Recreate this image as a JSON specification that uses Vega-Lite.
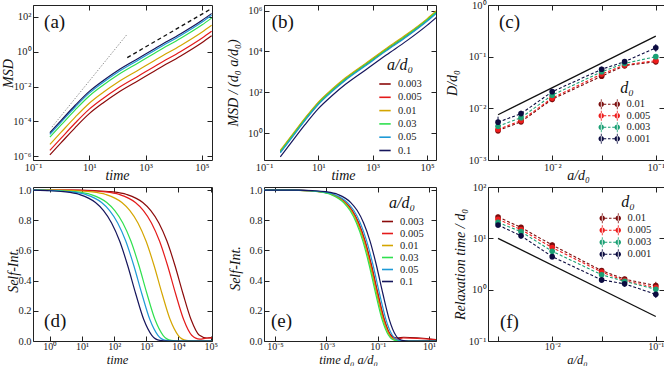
{
"$schema": "https://vega.github.io/schema/vega-lite/v6.json",
"autosize": {"type": "pad"},
"padding": {"left": 0, "top": -1, "right": 0, "bottom": 0},
"bounds": "flush",
"columns": 3,
"spacing": {"row": 27, "column": 52},
"resolve": {"scale": {"color": "independent", "fill": "independent", "stroke": "independent"}, "legend": {"color": "independent", "fill": "independent", "stroke": "independent"}},
"config": {
  "font": "Liberation Serif",
  "view": {"stroke": "#222", "strokeWidth": 1},
  "axis": {"domain": false, "grid": false, "tickSize": -5, "tickColor": "#222", "tickWidth": 1, "labelPadding": 7, "labelFontSize": 10.5, "labelColor": "#222", "labelFont": "Liberation Serif", "titleFont": "Liberation Serif", "titleFontSize": 14, "titleFontStyle": "italic", "titleFontWeight": "normal", "titleColor": "#111", "titleBaseline": "alphabetic", "labelFlush": false, "labelOverlap": false},
  "legend": {"labelFont": "Liberation Serif", "titleFont": "Liberation Serif", "titleFontWeight": "normal", "titleFontStyle": "italic", "titleFontSize": 16, "labelFontSize": 10.5, "labelColor": "#222", "titleColor": "#111"}
},
"datasets": {
"msd": [
{"a":"0.003","t":0.398,"msd":1.167e-6,"msds":0.1175},{"a":"0.003","t":1,"msd":5.85e-6,"msds":0.5888},{"a":"0.003","t":3.162,"msd":4.34e-5,"msds":4.365},{"a":"0.003","t":10,"msd":2.74e-4,"msds":27.54},{"a":"0.003","t":31.62,"msd":1.167e-3,"msds":117.5},{"a":"0.003","t":100,"msd":4.24e-3,"msds":426.6},{"a":"0.003","t":562.3,"msd":0.02224,"msds":2239},{"a":"0.003","t":3162,"msd":0.1167,"msds":11750},{"a":"0.003","t":17783,"msd":0.5716,"msds":57544},{"a":"0.003","t":100000,"msd":3.289,"msds":331131},{"a":"0.003","t":223872,"msd":8.26,"msds":831764},
{"a":"0.005","t":0.398,"msd":2.13e-6,"msds":0.1288},{"a":"0.005","t":1,"msd":1.069e-5,"msds":0.6457},{"a":"0.005","t":3.162,"msd":7.92e-5,"msds":4.786},{"a":"0.005","t":10,"msd":5.0e-4,"msds":30.2},{"a":"0.005","t":31.62,"msd":2.132e-3,"msds":128.8},{"a":"0.005","t":100,"msd":7.74e-3,"msds":467.7},{"a":"0.005","t":562.3,"msd":0.04064,"msds":2455},{"a":"0.005","t":3162,"msd":0.2133,"msds":12882},{"a":"0.005","t":17783,"msd":1.045,"msds":63096},{"a":"0.005","t":100000,"msd":6.011,"msds":363078},{"a":"0.005","t":223872,"msd":15.1,"msds":912011},
{"a":"0.01","t":0.398,"msd":4.68e-6,"msds":0.1413},{"a":"0.01","t":1,"msd":2.344e-5,"msds":0.7079},{"a":"0.01","t":3.162,"msd":1.738e-4,"msds":5.248},{"a":"0.01","t":10,"msd":1.096e-3,"msds":33.11},{"a":"0.01","t":31.62,"msd":4.679e-3,"msds":141.3},{"a":"0.01","t":100,"msd":0.01698,"msds":512.9},{"a":"0.01","t":562.3,"msd":0.08913,"msds":2692},{"a":"0.01","t":3162,"msd":0.4677,"msds":14125},{"a":"0.01","t":17783,"msd":2.291,"msds":69183},{"a":"0.01","t":100000,"msd":13.18,"msds":398107},{"a":"0.01","t":223872,"msd":33.11,"msds":1000000},
{"a":"0.03","t":0.398,"msd":1.222e-5,"msds":0.123},{"a":"0.03","t":1,"msd":6.125e-5,"msds":0.6166},{"a":"0.03","t":3.162,"msd":4.54e-4,"msds":4.571},{"a":"0.03","t":10,"msd":2.865e-3,"msds":28.84},{"a":"0.03","t":31.62,"msd":0.01222,"msds":123.0},{"a":"0.03","t":100,"msd":0.04437,"msds":446.7},{"a":"0.03","t":562.3,"msd":0.2328,"msds":2344},{"a":"0.03","t":3162,"msd":1.222,"msds":12303},{"a":"0.03","t":17783,"msd":5.985,"msds":60256},{"a":"0.03","t":100000,"msd":34.44,"msds":346737},{"a":"0.03","t":223872,"msd":86.51,"msds":870964},
{"a":"0.05","t":0.398,"msd":1.775e-5,"msds":0.1072},{"a":"0.05","t":1,"msd":8.89e-5,"msds":0.537},{"a":"0.05","t":3.162,"msd":6.59e-4,"msds":3.981},{"a":"0.05","t":10,"msd":4.159e-3,"msds":25.12},{"a":"0.05","t":31.62,"msd":0.01775,"msds":107.2},{"a":"0.05","t":100,"msd":0.0644,"msds":389.0},{"a":"0.05","t":562.3,"msd":0.338,"msds":2042},{"a":"0.05","t":3162,"msd":1.774,"msds":10715},{"a":"0.05","t":17783,"msd":8.688,"msds":52481},{"a":"0.05","t":100000,"msd":49.99,"msds":301995},{"a":"0.05","t":223872,"msd":125.6,"msds":758578},
{"a":"0.1","t":0.398,"msd":2.238e-5,"msds":0.0676},{"a":"0.1","t":1,"msd":1.122e-4,"msds":0.3388},{"a":"0.1","t":3.162,"msd":8.317e-4,"msds":2.512},{"a":"0.1","t":10,"msd":5.248e-3,"msds":15.85},{"a":"0.1","t":31.62,"msd":0.02239,"msds":67.61},{"a":"0.1","t":100,"msd":0.08128,"msds":245.5},{"a":"0.1","t":562.3,"msd":0.4265,"msds":1288},{"a":"0.1","t":3162,"msd":2.239,"msds":6761},{"a":"0.1","t":17783,"msd":10.96,"msds":33113},{"a":"0.1","t":100000,"msd":63.09,"msds":190546},{"a":"0.1","t":223872,"msd":158.5,"msds":478630}
],
"isf": [
{"a":"0.003","t":0.2455,"ts":1.82e-6,"F":1.0},{"a":"0.003","t":7.762,"ts":5.754e-5,"F":0.999},{"a":"0.003","t":24.55,"ts":1.82e-4,"F":0.996},{"a":"0.003","t":77.62,"ts":5.754e-4,"F":0.989},{"a":"0.003","t":245.5,"ts":1.82e-3,"F":0.97},{"a":"0.003","t":776.2,"ts":5.754e-3,"F":0.917},{"a":"0.003","t":1380,"ts":0.01023,"F":0.864},{"a":"0.003","t":2455,"ts":0.0182,"F":0.782},{"a":"0.003","t":4365,"ts":0.03236,"F":0.662},{"a":"0.003","t":7762,"ts":0.05754,"F":0.5},{"a":"0.003","t":13804,"ts":0.1023,"F":0.313},{"a":"0.003","t":24547,"ts":0.182,"F":0.142},{"a":"0.003","t":43652,"ts":0.3236,"F":0.04},{"a":"0.003","t":77625,"ts":0.5754,"F":0.02},{"a":"0.003","t":138038,"ts":1.023,"F":0.025},{"a":"0.003","t":7762471,"ts":57.54,"F":0.0},
{"a":"0.005","t":0.1445,"ts":1.738e-6,"F":1.0},{"a":"0.005","t":4.571,"ts":5.495e-5,"F":0.999},{"a":"0.005","t":14.45,"ts":1.738e-4,"F":0.996},{"a":"0.005","t":45.71,"ts":5.495e-4,"F":0.989},{"a":"0.005","t":144.5,"ts":1.738e-3,"F":0.97},{"a":"0.005","t":457.1,"ts":5.495e-3,"F":0.917},{"a":"0.005","t":812.8,"ts":9.772e-3,"F":0.864},{"a":"0.005","t":1445,"ts":0.01738,"F":0.782},{"a":"0.005","t":2570,"ts":0.0309,"F":0.662},{"a":"0.005","t":4571,"ts":0.05495,"F":0.5},{"a":"0.005","t":8128,"ts":0.09772,"F":0.313},{"a":"0.005","t":14454,"ts":0.1738,"F":0.142},{"a":"0.005","t":25704,"ts":0.309,"F":0.038},{"a":"0.005","t":45709,"ts":0.5495,"F":0.012},{"a":"0.005","t":81283,"ts":0.9772,"F":0.02},{"a":"0.005","t":4570882,"ts":54.95,"F":0.0},
{"a":"0.01","t":0.05495,"ts":1.622e-6,"F":1.0},{"a":"0.01","t":1.738,"ts":5.129e-5,"F":0.999},{"a":"0.01","t":5.495,"ts":1.622e-4,"F":0.996},{"a":"0.01","t":17.38,"ts":5.129e-4,"F":0.989},{"a":"0.01","t":54.95,"ts":1.622e-3,"F":0.97},{"a":"0.01","t":173.8,"ts":5.129e-3,"F":0.917},{"a":"0.01","t":309.0,"ts":9.12e-3,"F":0.864},{"a":"0.01","t":549.5,"ts":0.01622,"F":0.782},{"a":"0.01","t":977.2,"ts":0.02884,"F":0.662},{"a":"0.01","t":1738,"ts":0.05129,"F":0.5},{"a":"0.01","t":3090,"ts":0.0912,"F":0.313},{"a":"0.01","t":5495,"ts":0.1622,"F":0.142},{"a":"0.01","t":9772,"ts":0.2884,"F":0.038},{"a":"0.01","t":17378,"ts":0.5129,"F":0.004},{"a":"0.01","t":30903,"ts":0.912,"F":0.0},{"a":"0.01","t":1737801,"ts":51.29,"F":0.0},
{"a":"0.03","t":0.01862,"ts":1.479e-6,"F":1.0},{"a":"0.03","t":0.5888,"ts":4.677e-5,"F":0.999},{"a":"0.03","t":1.862,"ts":1.479e-4,"F":0.996},{"a":"0.03","t":5.888,"ts":4.677e-4,"F":0.989},{"a":"0.03","t":18.62,"ts":1.479e-3,"F":0.97},{"a":"0.03","t":58.88,"ts":4.677e-3,"F":0.917},{"a":"0.03","t":104.7,"ts":8.318e-3,"F":0.864},{"a":"0.03","t":186.2,"ts":0.01479,"F":0.782},{"a":"0.03","t":331.1,"ts":0.0263,"F":0.662},{"a":"0.03","t":588.8,"ts":0.04677,"F":0.5},{"a":"0.03","t":1047,"ts":0.08318,"F":0.313},{"a":"0.03","t":1862,"ts":0.1479,"F":0.142},{"a":"0.03","t":3311,"ts":0.263,"F":0.038},{"a":"0.03","t":5888,"ts":0.4677,"F":0.004},{"a":"0.03","t":10471,"ts":0.8318,"F":0.0},{"a":"0.03","t":588844,"ts":46.77,"F":0.0},
{"a":"0.05","t":0.01288,"ts":2.09e-6,"F":1.0},{"a":"0.05","t":0.4074,"ts":6.61e-5,"F":0.999},{"a":"0.05","t":1.288,"ts":2.09e-4,"F":0.996},{"a":"0.05","t":4.074,"ts":6.61e-4,"F":0.989},{"a":"0.05","t":12.88,"ts":2.09e-3,"F":0.97},{"a":"0.05","t":40.74,"ts":6.61e-3,"F":0.917},{"a":"0.05","t":72.44,"ts":0.01175,"F":0.864},{"a":"0.05","t":128.8,"ts":0.0209,"F":0.782},{"a":"0.05","t":229.1,"ts":0.03715,"F":0.662},{"a":"0.05","t":407.4,"ts":0.0661,"F":0.5},{"a":"0.05","t":724.4,"ts":0.1175,"F":0.313},{"a":"0.05","t":1288,"ts":0.209,"F":0.142},{"a":"0.05","t":2291,"ts":0.3715,"F":0.038},{"a":"0.05","t":4074,"ts":0.661,"F":0.004},{"a":"0.05","t":7244,"ts":1.175,"F":0.0},{"a":"0.05","t":407380,"ts":66.1,"F":0.0},
{"a":"0.1","t":0.00832,"ts":2.82e-6,"F":1.0},{"a":"0.1","t":0.263,"ts":8.91e-5,"F":0.999},{"a":"0.1","t":0.832,"ts":2.82e-4,"F":0.996},{"a":"0.1","t":2.63,"ts":8.91e-4,"F":0.989},{"a":"0.1","t":8.32,"ts":2.82e-3,"F":0.97},{"a":"0.1","t":26.3,"ts":8.91e-3,"F":0.917},{"a":"0.1","t":46.8,"ts":0.01585,"F":0.864},{"a":"0.1","t":83.2,"ts":0.02818,"F":0.782},{"a":"0.1","t":147.9,"ts":0.0501,"F":0.662},{"a":"0.1","t":263,"ts":0.0891,"F":0.5},{"a":"0.1","t":467.7,"ts":0.1585,"F":0.313},{"a":"0.1","t":831.8,"ts":0.2818,"F":0.142},{"a":"0.1","t":1479,"ts":0.501,"F":0.038},{"a":"0.1","t":2630,"ts":0.891,"F":0.004},{"a":"0.1","t":4677,"ts":1.585,"F":0.0},{"a":"0.1","t":263027,"ts":89.1,"F":0.0}
],
"tr": [
{"d0":"0.01","a":0.003,"D":0.0037,"Dlo":0.00326,"Dhi":0.00414,"tau":26,"tlo":22.9,"thi":29.1},
{"d0":"0.01","a":0.005,"D":0.0055,"Dlo":0.00484,"Dhi":0.00616,"tau":16.3,"tlo":14.3,"thi":18.3},
{"d0":"0.01","a":0.01,"D":0.015,"Dlo":0.0132,"Dhi":0.0168,"tau":7.4,"tlo":6.5,"thi":8.3},
{"d0":"0.01","a":0.03,"D":0.042,"Dlo":0.037,"Dhi":0.047,"tau":2.35,"tlo":2.07,"thi":2.63},
{"d0":"0.01","a":0.05,"D":0.067,"Dlo":0.059,"Dhi":0.075,"tau":1.6,"tlo":1.41,"thi":1.79},
{"d0":"0.01","a":0.1,"D":0.08,"Dlo":0.07,"Dhi":0.09,"tau":1.2,"tlo":1.02,"thi":1.42},
{"d0":"0.005","a":0.003,"D":0.0039,"Dlo":0.00343,"Dhi":0.00437,"tau":23.5,"tlo":20.7,"thi":26.3},
{"d0":"0.005","a":0.005,"D":0.0058,"Dlo":0.0051,"Dhi":0.0065,"tau":14.8,"tlo":13.0,"thi":16.6},
{"d0":"0.005","a":0.01,"D":0.0158,"Dlo":0.013,"Dhi":0.019,"tau":6.6,"tlo":5.8,"thi":7.4},
{"d0":"0.005","a":0.03,"D":0.046,"Dlo":0.0405,"Dhi":0.0515,"tau":2.2,"tlo":1.94,"thi":2.46},
{"d0":"0.005","a":0.05,"D":0.069,"Dlo":0.0607,"Dhi":0.0773,"tau":1.5,"tlo":1.32,"thi":1.68},
{"d0":"0.005","a":0.1,"D":0.084,"Dlo":0.074,"Dhi":0.094,"tau":1.1,"tlo":0.94,"thi":1.3},
{"d0":"0.003","a":0.003,"D":0.0045,"Dlo":0.00396,"Dhi":0.00504,"tau":20.4,"tlo":18.0,"thi":22.8},
{"d0":"0.003","a":0.005,"D":0.0066,"Dlo":0.0058,"Dhi":0.0074,"tau":13.5,"tlo":11.9,"thi":15.1},
{"d0":"0.003","a":0.01,"D":0.018,"Dlo":0.0158,"Dhi":0.0202,"tau":5.6,"tlo":4.9,"thi":6.3},
{"d0":"0.003","a":0.03,"D":0.051,"Dlo":0.0449,"Dhi":0.0571,"tau":1.95,"tlo":1.72,"thi":2.18},
{"d0":"0.003","a":0.05,"D":0.074,"Dlo":0.0651,"Dhi":0.0829,"tau":1.45,"tlo":1.28,"thi":1.62},
{"d0":"0.003","a":0.1,"D":0.1,"Dlo":0.088,"Dhi":0.112,"tau":1.02,"tlo":0.87,"thi":1.2},
{"d0":"0.001","a":0.003,"D":0.0054,"Dlo":0.0043,"Dhi":0.0069,"tau":18.2,"tlo":16.0,"thi":20.4},
{"d0":"0.001","a":0.005,"D":0.0079,"Dlo":0.0069,"Dhi":0.009,"tau":11.2,"tlo":9.9,"thi":12.5},
{"d0":"0.001","a":0.01,"D":0.021,"Dlo":0.0185,"Dhi":0.0235,"tau":4.4,"tlo":3.9,"thi":4.9},
{"d0":"0.001","a":0.03,"D":0.057,"Dlo":0.05,"Dhi":0.064,"tau":1.55,"tlo":1.36,"thi":1.74},
{"d0":"0.001","a":0.05,"D":0.08,"Dlo":0.07,"Dhi":0.09,"tau":1.3,"tlo":1.14,"thi":1.46},
{"d0":"0.001","a":0.1,"D":0.148,"Dlo":0.125,"Dhi":0.175,"tau":0.81,"tlo":0.69,"thi":0.95}
]
},
"concat": [
 {"width": 179, "height": 155,
  "layer": [
   {"data": {"name": "msd"}, "mark": {"type": "line", "strokeWidth": 1.2, "clip": true, "interpolate": "monotone"},
    "encoding": {
     "x": {"field": "t", "type": "quantitative", "scale": {"type": "log", "domain": [0.1, 230000], "nice": false}, "axis": {"orient": "bottom", "values": [0.1, 10, 1000, 100000], "labelExpr": "'10' + replace(replace(replace(replace(replace(replace(replace(replace(replace(replace(replace('' + round(log(datum.value) / LN10), '-', '⁻'), '0', '⁰'), '1', '¹'), '2', '²'), '3', '³'), '4', '⁴'), '5', '⁵'), '6', '⁶'), '7', '⁷'), '8', '⁸'), '9', '⁹')", "title": "time", "titleX": 84, "titleY": 19}},
     "y": {"field": "msd", "type": "quantitative", "scale": {"type": "log", "domain": [5.9e-7, 490], "nice": false}, "axis": {"orient": "left", "values": [1e-6, 1e-4, 0.01, 1, 100], "labelExpr": "'10' + replace(replace(replace(replace(replace(replace(replace(replace(replace(replace(replace('' + round(log(datum.value) / LN10), '-', '⁻'), '0', '⁰'), '1', '¹'), '2', '²'), '3', '³'), '4', '⁴'), '5', '⁵'), '6', '⁶'), '7', '⁷'), '8', '⁸'), '9', '⁹')", "title": "MSD", "titleX": -21, "titleY": 68}},
     "color": {"field": "a", "type": "nominal", "scale": {"domain": ["0.003", "0.005", "0.01", "0.03", "0.05", "0.1"], "range": ["#8b0a0a", "#e41a1a", "#d4a500", "#2fe04f", "#1e9ad6", "#15155c"]}, "legend": null}
    }},
   {"data": {"values": [{"t": 0.47, "msd": 4.6e-5}, {"t": 220, "msd": 10}]}, "mark": {"type": "line", "color": "#777", "strokeWidth": 0.8, "strokeDash": [1.5, 1.5]},
    "encoding": {"x": {"field": "t", "type": "quantitative", "axis": {"orient": "top", "values": [0.1, 10, 1000, 100000], "labels": false, "title": null}}, "y": {"field": "msd", "type": "quantitative", "axis": {"orient": "right", "values": [1e-6, 1e-4, 0.01, 1, 100], "labels": false, "title": null}}}},
   {"data": {"values": [{"t": 224, "msd": 0.46}, {"t": 209000, "msd": 290}]}, "mark": {"type": "line", "color": "#111", "strokeWidth": 1.3, "strokeDash": [4, 3]},
    "encoding": {"x": {"field": "t", "type": "quantitative", "axis": null}, "y": {"field": "msd", "type": "quantitative", "axis": null}}},
   {"data": {"values": [{}]}, "mark": {"type": "text", "text": "(a)", "fontSize": 19, "align": "left", "baseline": "alphabetic", "color": "#111"},
    "encoding": {"x": {"datum": 0.247, "type": "quantitative", "axis": null}, "y": {"datum": 23.4, "type": "quantitative", "axis": null}}}
  ],
  "resolve": {"axis": {"x": "independent", "y": "independent"}}
 },
 {"width": 172, "height": 155,
  "layer": [
   {"data": {"name": "msd"}, "mark": {"type": "line", "strokeWidth": 1.2, "clip": true, "interpolate": "monotone"},
    "encoding": {
     "x": {"field": "t", "type": "quantitative", "scale": {"type": "log", "domain": [0.1, 214000], "nice": false}, "axis": {"orient": "bottom", "values": [0.1, 10, 1000, 100000], "labelExpr": "'10' + replace(replace(replace(replace(replace(replace(replace(replace(replace(replace(replace('' + round(log(datum.value) / LN10), '-', '⁻'), '0', '⁰'), '1', '¹'), '2', '²'), '3', '³'), '4', '⁴'), '5', '⁵'), '6', '⁶'), '7', '⁷'), '8', '⁸'), '9', '⁹')", "title": "time", "titleX": 79, "titleY": 19}},
     "y": {"field": "msds", "type": "quantitative", "scale": {"type": "log", "domain": [0.048, 1900000], "nice": false}, "axis": {"orient": "left", "values": [1, 100, 10000, 1000000], "labelExpr": "'10' + replace(replace(replace(replace(replace(replace(replace(replace(replace(replace(replace('' + round(log(datum.value) / LN10), '-', '⁻'), '0', '⁰'), '1', '¹'), '2', '²'), '3', '³'), '4', '⁴'), '5', '⁵'), '6', '⁶'), '7', '⁷'), '8', '⁸'), '9', '⁹')", "title": "MSD / (d₀ a/d₀)", "titleX": -27}},
     "color": {"field": "a", "type": "nominal", "scale": {"domain": ["0.003", "0.005", "0.01", "0.03", "0.05", "0.1"], "range": ["#8b0a0a", "#e41a1a", "#d4a500", "#2fe04f", "#1e9ad6", "#15155c"]},
      "legend": {"orient": "none", "legendX": 114, "legendY": 52, "title": "a/d₀", "titleAnchor": "middle", "symbolType": "stroke", "symbolSize": 130, "symbolStrokeWidth": 1.6, "rowPadding": 0.3, "labelOffset": 6, "titlePadding": 4}}
    }},
   {"data": {"values": [{}]}, "mark": {"type": "text", "text": "(b)", "fontSize": 19, "align": "left", "baseline": "alphabetic", "color": "#111"},
    "encoding": {"x": {"datum": 0.193, "type": "quantitative", "axis": {"orient": "top", "values": [0.1, 10, 1000, 100000], "labels": false, "title": null}}, "y": {"datum": 140000, "type": "quantitative", "axis": {"orient": "right", "values": [1, 100, 10000, 1000000], "labels": false, "title": null}}}}
  ],
  "resolve": {"axis": {"x": "independent", "y": "independent"}}
 },
 {"width": 176, "height": 155,
  "layer": [
   {"data": {"values": [{"a": 0.003, "D": 0.0075}, {"a": 0.1, "D": 0.25}]}, "mark": {"type": "line", "color": "#111", "strokeWidth": 1.3},
    "encoding": {"x": {"field": "a", "type": "quantitative", "scale": {"type": "log", "domain": [0.0024, 0.12], "nice": false}, "axis": {"orient": "top", "values": [0.003, 0.01, 0.03, 0.1], "labels": false, "title": null}}, "y": {"field": "D", "type": "quantitative", "scale": {"type": "log", "domain": [0.001, 1], "nice": false}, "axis": {"orient": "right", "values": [0.001, 0.01, 0.1, 1], "labels": false, "title": null}}}},
   {"data": {"name": "tr"}, "mark": {"type": "line", "strokeWidth": 1.1, "strokeDash": [3, 2]},
    "encoding": {
     "x": {"field": "a", "type": "quantitative", "axis": {"orient": "bottom", "values": [0.003, 0.01, 0.03, 0.1], "labelExpr": "abs(log(datum.value)/LN10 - round(log(datum.value)/LN10)) < 0.01 ? '10' + replace(replace(replace(replace(replace(replace(replace(replace(replace(replace(replace('' + round(log(datum.value) / LN10), '-', '⁻'), '0', '⁰'), '1', '¹'), '2', '²'), '3', '³'), '4', '⁴'), '5', '⁵'), '6', '⁶'), '7', '⁷'), '8', '⁸'), '9', '⁹') : ''", "title": "a/d₀", "titleX": 90, "titleY": 19}},
     "y": {"field": "D", "type": "quantitative", "axis": {"orient": "left", "values": [0.001, 0.01, 0.1, 1], "labelExpr": "'10' + replace(replace(replace(replace(replace(replace(replace(replace(replace(replace(replace('' + round(log(datum.value) / LN10), '-', '⁻'), '0', '⁰'), '1', '¹'), '2', '²'), '3', '³'), '4', '⁴'), '5', '⁵'), '6', '⁶'), '7', '⁷'), '8', '⁸'), '9', '⁹')", "title": "D/d₀", "titleX": -32}},
     "stroke": {"field": "d0", "type": "nominal", "scale": {"range": ["#0b0b40", "#1aa074", "#ee1c1c", "#7b0d0d"]}, "legend": null}
    }},
   {"data": {"name": "tr"}, "mark": {"type": "rule", "strokeWidth": 1},
    "encoding": {"x": {"field": "a", "type": "quantitative", "axis": null}, "y": {"field": "Dlo", "type": "quantitative", "axis": null}, "y2": {"field": "Dhi"},
     "stroke": {"field": "d0", "type": "nominal", "legend": null}}},
   {"data": {"name": "tr"}, "mark": {"type": "point", "filled": true, "size": 32, "strokeWidth": 0, "opacity": 1},
    "encoding": {"x": {"field": "a", "type": "quantitative", "axis": null}, "y": {"field": "D", "type": "quantitative", "axis": null},
     "fill": {"field": "d0", "type": "nominal", "scale": {"domain": ["0.01", "0.005", "0.003", "0.001"], "range": ["#7b0d0d", "#ee1c1c", "#1aa074", "#0b0b40"]},
      "legend": {"orient": "none", "legendX": 116, "legendY": 75, "title": "d₀", "titleAnchor": "middle", "symbolType": "M-2.15,0A0.55,0.55,0,1,0,-1.05,0A0.55,0.55,0,1,0,-2.15,0ZM1.05,0A0.55,0.55,0,1,0,2.15,0A0.55,0.55,0,1,0,1.05,0ZM-1.68,-1H-1.52V1H-1.68ZM1.52,-1H1.68V1H1.52ZM-1.05,-0.1H-0.6V0.1H-1.05ZM-0.25,-0.1H0.25V0.1H-0.25ZM0.6,-0.1H1.05V0.1H0.6Z", "symbolSize": 100, "symbolStrokeWidth": 0, "symbolOpacity": 1, "labelOffset": 12, "rowPadding": 0.5, "titlePadding": 3}}
    }},
   {"data": {"values": [{}]}, "mark": {"type": "text", "text": "(c)", "fontSize": 19, "align": "left", "baseline": "alphabetic", "color": "#111"},
    "encoding": {"x": {"datum": 0.00306, "type": "quantitative", "axis": null}, "y": {"datum": 0.359, "type": "quantitative", "axis": null}}}
  ],
  "resolve": {"axis": {"x": "independent", "y": "independent"}}
 },
 {"width": 179, "height": 154,
  "layer": [
   {"data": {"name": "isf"}, "mark": {"type": "line", "strokeWidth": 1.2, "clip": true, "interpolate": "monotone"},
    "encoding": {
     "x": {"field": "t", "type": "quantitative", "scale": {"type": "log", "domain": [0.3, 110000], "nice": false}, "axis": {"orient": "bottom", "values": [1, 10, 100, 1000, 10000, 100000], "labelExpr": "'10' + replace(replace(replace(replace(replace(replace(replace(replace(replace(replace(replace('' + round(log(datum.value) / LN10), '-', '⁻'), '0', '⁰'), '1', '¹'), '2', '²'), '3', '³'), '4', '⁴'), '5', '⁵'), '6', '⁶'), '7', '⁷'), '8', '⁸'), '9', '⁹')", "labelPadding": 5, "labelFontSize": 10, "title": "time", "titleX": 84, "titleY": 22, "titleFontSize": 12.5}},
     "y": {"field": "F", "type": "quantitative", "scale": {"domain": [0, 1.02], "nice": false, "zero": false}, "axis": {"orient": "left", "values": [0, 0.2, 0.4, 0.6, 0.8, 1.0], "format": ".1f", "title": "Self-Int.", "titleX": -16, "titleY": 83}},
     "color": {"field": "a", "type": "nominal", "scale": {"domain": ["0.003", "0.005", "0.01", "0.03", "0.05", "0.1"], "range": ["#8b0a0a", "#e41a1a", "#d4a500", "#2fe04f", "#1e9ad6", "#15155c"]}, "legend": null}
    }},
   {"data": {"values": [{}]}, "mark": {"type": "text", "text": "(d)", "fontSize": 19, "align": "left", "baseline": "alphabetic", "color": "#111"},
    "encoding": {"x": {"datum": 0.664, "type": "quantitative", "axis": {"orient": "top", "values": [1, 10, 100, 1000, 10000, 100000], "labels": false, "title": null}}, "y": {"datum": 0.093, "type": "quantitative", "axis": {"orient": "right", "values": [0, 0.2, 0.4, 0.6, 0.8, 1.0], "labels": false, "title": null}}}}
  ],
  "resolve": {"axis": {"x": "independent", "y": "independent"}}
 },
 {"width": 172, "height": 154,
  "layer": [
   {"data": {"name": "isf"}, "mark": {"type": "line", "strokeWidth": 1.2, "clip": true, "interpolate": "monotone"},
    "encoding": {
     "x": {"field": "ts", "type": "quantitative", "scale": {"type": "log", "domain": [3.7e-6, 18.6], "nice": false}, "axis": {"orient": "bottom", "values": [1e-5, 1e-3, 0.1, 10], "labelExpr": "'10' + replace(replace(replace(replace(replace(replace(replace(replace(replace(replace(replace('' + round(log(datum.value) / LN10), '-', '⁻'), '0', '⁰'), '1', '¹'), '2', '²'), '3', '³'), '4', '⁴'), '5', '⁵'), '6', '⁶'), '7', '⁷'), '8', '⁸'), '9', '⁹')", "labelPadding": 5, "labelFontSize": 10, "title": "time d₀ a/d₀", "titleX": 84, "titleY": 22, "titleFontSize": 12.5}},
     "y": {"field": "F", "type": "quantitative", "scale": {"domain": [0, 1.02], "nice": false, "zero": false}, "axis": {"orient": "left", "values": [0, 0.2, 0.4, 0.6, 0.8, 1.0], "format": ".1f", "title": "Self-Int.", "titleX": -25, "titleY": 81}},
     "color": {"field": "a", "type": "nominal", "scale": {"domain": ["0.003", "0.005", "0.01", "0.03", "0.05", "0.1"], "range": ["#8b0a0a", "#e41a1a", "#d4a500", "#2fe04f", "#1e9ad6", "#15155c"]},
      "legend": {"orient": "none", "legendX": 117, "legendY": 8, "title": "a/d₀", "titleAnchor": "middle", "symbolType": "stroke", "symbolSize": 120, "symbolStrokeWidth": 1.6, "rowPadding": 0, "labelOffset": 6, "titlePadding": 4}}
    }},
   {"data": {"values": [{}]}, "mark": {"type": "text", "text": "(e)", "fontSize": 19, "align": "left", "baseline": "alphabetic", "color": "#111"},
    "encoding": {"x": {"datum": 6.9e-6, "type": "quantitative", "axis": {"orient": "top", "values": [1e-5, 1e-3, 0.1, 10], "labels": false, "title": null}}, "y": {"datum": 0.093, "type": "quantitative", "axis": {"orient": "right", "values": [0, 0.2, 0.4, 0.6, 0.8, 1.0], "labels": false, "title": null}}}}
  ],
  "resolve": {"axis": {"x": "independent", "y": "independent"}}
 },
 {"width": 176, "height": 154,
  "layer": [
   {"data": {"values": [{"a": 0.003, "tau": 10}, {"a": 0.1, "tau": 0.3}]}, "mark": {"type": "line", "color": "#111", "strokeWidth": 1.3},
    "encoding": {"x": {"field": "a", "type": "quantitative", "scale": {"type": "log", "domain": [0.0024, 0.12], "nice": false}, "axis": {"orient": "top", "values": [0.003, 0.01, 0.03, 0.1], "labels": false, "title": null}}, "y": {"field": "tau", "type": "quantitative", "scale": {"type": "log", "domain": [0.1, 100], "nice": false}, "axis": {"orient": "right", "values": [0.1, 1, 10, 100], "labels": false, "title": null}}}},
   {"data": {"name": "tr"}, "mark": {"type": "line", "strokeWidth": 1.1, "strokeDash": [3, 2]},
    "encoding": {
     "x": {"field": "a", "type": "quantitative", "axis": {"orient": "bottom", "values": [0.003, 0.01, 0.03, 0.1], "labelExpr": "abs(log(datum.value)/LN10 - round(log(datum.value)/LN10)) < 0.01 ? '10' + replace(replace(replace(replace(replace(replace(replace(replace(replace(replace(replace('' + round(log(datum.value) / LN10), '-', '⁻'), '0', '⁰'), '1', '¹'), '2', '²'), '3', '³'), '4', '⁴'), '5', '⁵'), '6', '⁶'), '7', '⁷'), '8', '⁸'), '9', '⁹') : ''", "labelPadding": 5, "labelFontSize": 10, "title": "a/d₀", "titleX": 89, "titleY": 22, "titleFontSize": 12.5}},
     "y": {"field": "tau", "type": "quantitative", "axis": {"orient": "left", "values": [0.1, 1, 10, 100], "labelExpr": "'10' + replace(replace(replace(replace(replace(replace(replace(replace(replace(replace(replace('' + round(log(datum.value) / LN10), '-', '⁻'), '0', '⁰'), '1', '¹'), '2', '²'), '3', '³'), '4', '⁴'), '5', '⁵'), '6', '⁶'), '7', '⁷'), '8', '⁸'), '9', '⁹')", "title": "Relaxation time / d₀", "titleX": -24}},
     "stroke": {"field": "d0", "type": "nominal", "scale": {"range": ["#0b0b40", "#1aa074", "#ee1c1c", "#7b0d0d"]}, "legend": null}
    }},
   {"data": {"name": "tr"}, "mark": {"type": "rule", "strokeWidth": 1},
    "encoding": {"x": {"field": "a", "type": "quantitative", "axis": null}, "y": {"field": "tlo", "type": "quantitative", "axis": null}, "y2": {"field": "thi"},
     "stroke": {"field": "d0", "type": "nominal", "legend": null}}},
   {"data": {"name": "tr"}, "mark": {"type": "point", "filled": true, "size": 32, "strokeWidth": 0, "opacity": 1},
    "encoding": {"x": {"field": "a", "type": "quantitative", "axis": null}, "y": {"field": "tau", "type": "quantitative", "axis": null},
     "fill": {"field": "d0", "type": "nominal", "scale": {"domain": ["0.01", "0.005", "0.003", "0.001"], "range": ["#7b0d0d", "#ee1c1c", "#1aa074", "#0b0b40"]},
      "legend": {"orient": "none", "legendX": 117, "legendY": 7, "title": "d₀", "titleAnchor": "middle", "symbolType": "M-2.15,0A0.55,0.55,0,1,0,-1.05,0A0.55,0.55,0,1,0,-2.15,0ZM1.05,0A0.55,0.55,0,1,0,2.15,0A0.55,0.55,0,1,0,1.05,0ZM-1.68,-1H-1.52V1H-1.68ZM1.52,-1H1.68V1H1.52ZM-1.05,-0.1H-0.6V0.1H-1.05ZM-0.25,-0.1H0.25V0.1H-0.25ZM0.6,-0.1H1.05V0.1H0.6Z", "symbolSize": 100, "symbolStrokeWidth": 0, "symbolOpacity": 1, "labelOffset": 12, "rowPadding": 1, "titlePadding": 3}}
    }},
   {"data": {"values": [{}]}, "mark": {"type": "text", "text": "(f)", "fontSize": 19, "align": "left", "baseline": "alphabetic", "color": "#111"},
    "encoding": {"x": {"datum": 0.00313, "type": "quantitative", "axis": null}, "y": {"datum": 0.179, "type": "quantitative", "axis": null}}}
  ],
  "resolve": {"axis": {"x": "independent", "y": "independent"}}
 }
]
}
